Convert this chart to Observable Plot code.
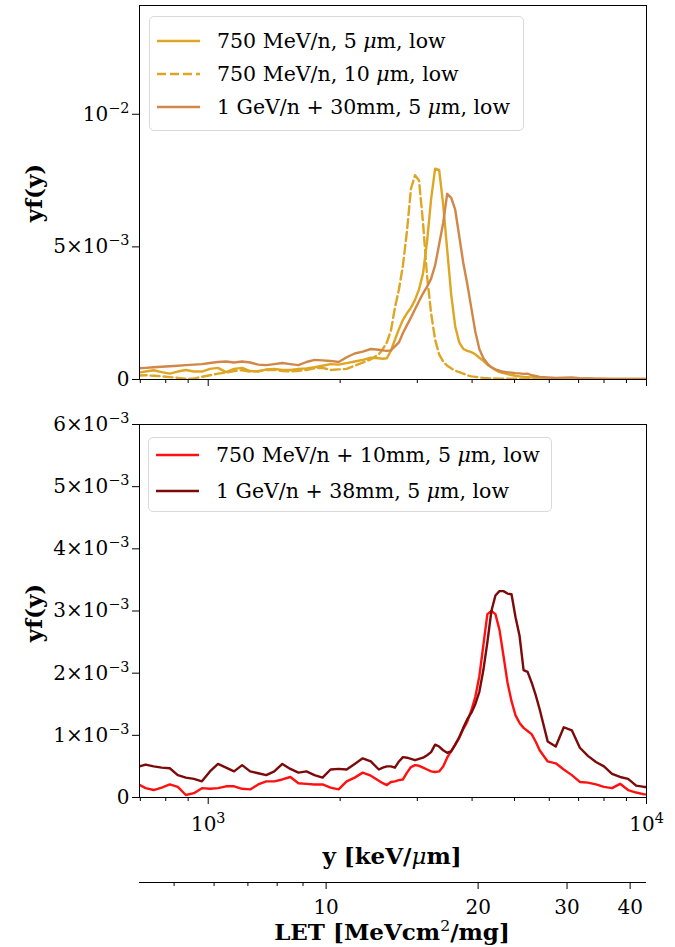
<!DOCTYPE html>
<html>
<head>
<meta charset="utf-8">
<script src="https://cdn.jsdelivr.net/npm/d3@7"></script>
<script src="https://cdn.jsdelivr.net/npm/@observablehq/plot@0.6"></script>
<style>
  body { margin: 0; background: #fff; }
  #fig { position: relative; width: 675px; height: 947px; font-family: "DejaVu Serif", serif; color: #000; overflow: hidden; }
  #fig svg { position: absolute; left: 0; overflow: visible; }
  .lbl { position: absolute; font-weight: bold; font-size: 23px; white-space: nowrap; transform: translate(-50%, -50%); line-height: 1; }
  .lbl i { font-weight: normal; }
  .rot { transform: translate(-50%, -50%) rotate(-90deg); }
  .legend { position: absolute; border: 1px solid #d9d9d9; border-radius: 5px; background: rgba(255,255,255,0.85); font-size: 20.5px; }
  .item { position: absolute; left: 0; display: flex; align-items: center; white-space: nowrap; height: 30px; transform: translateY(-50%); }
  .item svg { position: static !important; margin-left: 7px; margin-right: 17px; }
  .item i { font-style: italic; }
</style>
</head>
<body>
<div id="fig"></div>
<script>
// ---- data (x: lineal energy y in keV/um, values: yf(y) in units of 1e-3) ----
const yGrid = [690, 719.8, 750.9, 783.3, 817.1, 852.3, 889.1, 927.5, 967.5, 1009.2, 1052.8, 1098.2, 1145.6, 1195.0, 1246.6, 1300.4, 1356.5, 1415.0, 1476.1, 1539.8, 1606.2, 1675.5, 1747.8, 1823.2, 1901.9, 1984.0, 2069.6, 2158.9, 2252.1, 2349.3, 2450.6,
  2502.9, 2556.4, 2611.0, 2666.7, 2723.7, 2781.8, 2841.2, 2901.8, 2963.8, 3027.0, 3091.7, 3157.6, 3225.1, 3293.9, 3364.2, 3436.0, 3509.4, 3584.3, 3660.8, 3739.0, 3818.8, 3900.3, 3983.6, 4068.6, 4155.5, 4244.2, 4334.8, 4427.3, 4521.8, 4618.4, 4717.0, 4817.7, 4920.6, 5025.6, 5132.9, 5242.4, 5354.3, 5468.6, 5585.4, 5704.6,
  5950.8, 6207.5, 6475.4, 6754.8, 7046.3, 7350.4, 7667.6, 7998.4, 8343.6, 8703.6, 9079.2, 9471.0, 9879.7, 10000];

const s750_5um = [0.25,0.30,0.35,0.28,0.22,0.30,0.36,0.30,0.30,0.40,0.44,0.28,0.40,0.44,0.32,0.30,0.38,0.40,0.36,0.36,0.40,0.42,0.46,0.52,0.58,0.56,0.62,0.68,0.74,0.82,0.80,
  0.78,0.80,1.09,1.50,1.90,2.25,2.50,2.71,3.00,3.40,4.00,5.20,6.80,7.95,7.90,6.60,4.90,3.20,2.00,1.40,1.15,1.08,1.03,0.95,0.82,0.70,0.56,0.46,0.36,0.28,0.24,0.20,0.17,0.14,0.12,0.10,0.09,0.08,0.07,0.06,
  0.05,0.04,0.04,0.03,0.03,0.03,0.02,0.02,0.02,0.02,0.02,0.02,0.02,0.02];

const s750_10um = [0.15,0.16,0.14,0.12,0.09,0.06,0.03,0.04,0.10,0.16,0.22,0.26,0.32,0.35,0.30,0.32,0.36,0.36,0.32,0.30,0.33,0.36,0.42,0.44,0.36,0.38,0.40,0.52,0.64,0.76,0.95,
  1.15,1.40,1.84,2.70,3.40,4.30,5.60,7.20,7.70,7.50,5.90,3.90,2.50,1.50,0.95,0.68,0.52,0.42,0.33,0.28,0.22,0.16,0.12,0.10,0.08,0.06,0.05,0.04,0.04,0.03,0.03,0.03,0.03,0.03,0.02,0.02,0.02,0.02,0.02,0.02,
  0.02,0.02,0.02,0.02,0.02,0.02,0.02,0.01,0.01,0.01,0.01,0.01,0.01,0.01];

const s1G_30mm = [0.42,0.44,0.46,0.48,0.50,0.52,0.54,0.56,0.58,0.62,0.66,0.68,0.64,0.68,0.64,0.56,0.54,0.58,0.62,0.58,0.54,0.66,0.74,0.72,0.70,0.66,0.84,0.98,1.05,1.15,1.12,
  1.10,1.08,1.10,1.25,1.40,1.75,2.05,2.34,2.65,2.95,3.25,3.50,3.80,4.30,5.10,5.90,7.00,6.85,6.40,5.40,4.40,3.60,2.70,1.80,1.15,0.80,0.60,0.46,0.38,0.33,0.29,0.27,0.26,0.24,0.23,0.21,0.22,0.16,0.13,0.10,
  0.08,0.06,0.07,0.08,0.05,0.04,0.03,0.03,0.02,0.02,0.02,0.02,0.02,0.02];

const s750_10mm = [0.22,0.15,0.12,0.16,0.21,0.17,0.04,0.07,0.15,0.14,0.15,0.18,0.18,0.14,0.13,0.21,0.26,0.26,0.29,0.33,0.23,0.22,0.21,0.21,0.16,0.13,0.26,0.32,0.40,0.35,0.27,
  0.23,0.20,0.25,0.26,0.28,0.29,0.40,0.49,0.52,0.51,0.48,0.45,0.42,0.41,0.42,0.50,0.64,0.75,0.85,0.96,1.10,1.22,1.40,1.62,1.95,2.45,2.95,3.00,2.95,2.70,2.28,1.85,1.55,1.32,1.20,1.12,1.07,1.02,0.90,0.76,
  0.58,0.55,0.45,0.36,0.25,0.24,0.21,0.17,0.15,0.22,0.12,0.08,0.05,0.05];

const s1G_38mm = [0.49,0.53,0.50,0.48,0.47,0.36,0.32,0.30,0.26,0.42,0.54,0.48,0.42,0.52,0.42,0.39,0.36,0.42,0.54,0.46,0.40,0.42,0.36,0.32,0.45,0.46,0.45,0.54,0.63,0.58,0.45,
  0.48,0.50,0.50,0.48,0.58,0.65,0.64,0.62,0.60,0.62,0.64,0.68,0.73,0.85,0.82,0.76,0.72,0.74,0.85,0.97,1.12,1.26,1.36,1.50,1.70,2.05,2.50,3.00,3.25,3.32,3.32,3.28,3.27,2.90,2.60,2.05,2.02,1.85,1.65,1.42,
  0.90,0.82,1.13,1.08,0.80,0.67,0.57,0.50,0.38,0.33,0.30,0.19,0.17,0.17];

const topSeries = [
  {name: "750 MeV/n, 5 μm, low", values: s750_5um, color: "#dea624", dash: null},
  {name: "750 MeV/n, 10 μm, low", values: s750_10um, color: "#dea624", dash: "9,4"},
  {name: "1 GeV/n + 30mm, 5 μm, low", values: s1G_30mm, color: "#d18747", dash: null}
];
const botSeries = [
  {name: "750 MeV/n + 10mm, 5 μm, low", values: s750_10mm, color: "#ff1111", dash: null},
  {name: "1 GeV/n + 38mm, 5 μm, low", values: s1G_38mm, color: "#7d0a0a", dash: null}
];

const xMajor = [1000, 10000];
const xMinor = [700, 800, 900, 2000, 3000, 4000, 5000, 6000, 7000, 8000, 9000];
const yTicksTop = [0, 0.005, 0.01];
const yTicksBot = [0, 0.001, 0.002, 0.003, 0.004, 0.005, 0.006];
const letMajor = [10, 20, 30, 40];
const letMinor = [5, 6, 7, 8, 9];

// ---- helpers ----
const rows = vals => yGrid.map((x, i) => ({x, v: vals[i] * 1e-3}));
const fmtY = v => v === 0 ? "0" : (Math.abs(v - 0.01) < 1e-9 ? "10^−2" : Math.round(v * 1000) + "×10^−3");
const fmtX = v => v === 1000 ? "10^3" : "10^4";
const NS = "http://www.w3.org/2000/svg";
function sup(svg) {
  svg.querySelectorAll("text").forEach(t => {
    const s = t.textContent, i = s.indexOf("^");
    if (i < 0) return;
    t.textContent = "";
    const a = document.createElementNS(NS, "tspan"); a.textContent = s.slice(0, i);
    const b = document.createElementNS(NS, "tspan"); b.textContent = s.slice(i + 1);
    b.setAttribute("dy", "-0.55em"); b.setAttribute("font-size", "72%");
    t.append(a, b);
  });
  return svg;
}
const W = 675, ML = 139, MR = 29, LW = 2.4;
const xScale = {type: "log", domain: [697, 10000], label: null};
const baseStyle = {fontFamily: "DejaVu Serif", fontSize: "20px", background: "transparent", color: "#000", overflow: "visible"};
const lineMarks = series => series.map(s => Plot.line(rows(s.values), {x: "x", y: "v", stroke: s.color, strokeWidth: LW, strokeDasharray: s.dash, clip: true}));

const topPlot = Plot.plot({
  width: W, height: 391, marginLeft: ML, marginRight: MR, marginTop: 5, marginBottom: 12,
  style: baseStyle,
  x: xScale, y: {domain: [0, 0.0141], label: null},
  marks: [
    ...lineMarks(topSeries),
    Plot.frame({stroke: "#000", strokeWidth: 1}),
    Plot.axisX({ticks: xMajor, tickSize: 7, tickFormat: () => "", label: null}),
    Plot.axisX({ticks: xMinor, tickSize: 4, tickFormat: () => "", label: null}),
    Plot.axisY({ticks: yTicksTop, tickSize: 7, tickPadding: 3, tickFormat: fmtY, label: null})
  ]
});

const botPlot = Plot.plot({
  width: W, height: 486, marginLeft: ML, marginRight: MR, marginTop: 33, marginBottom: 80,
  style: baseStyle,
  x: xScale, y: {domain: [0, 0.006], label: null},
  marks: [
    ...lineMarks(botSeries),
    Plot.frame({stroke: "#000", strokeWidth: 1}),
    Plot.axisX({ticks: xMajor, tickSize: 7, tickPadding: 12, tickFormat: fmtX, label: null}),
    Plot.axisX({ticks: xMinor, tickSize: 4, tickFormat: () => "", label: null}),
    Plot.axisY({ticks: yTicksBot, tickSize: 7, tickPadding: 3, tickFormat: fmtY, label: null})
  ]
});

const letPlot = Plot.plot({
  width: W, height: 70, marginLeft: ML, marginRight: MR, marginTop: 0, marginBottom: 64,
  style: baseStyle,
  x: {type: "log", domain: [4.27, 43.1], label: null},
  y: {domain: [0, 1], axis: null},
  marks: [
    Plot.ruleY([0], {stroke: "#000", strokeWidth: 1}),
    Plot.axisX({ticks: letMajor, tickSize: 7, tickPadding: 10, tickFormat: d => String(d), label: null}),
    Plot.axisX({ticks: letMinor, tickSize: 4, tickFormat: () => "", label: null})
  ]
});

const fig = document.getElementById("fig");
[[topPlot, 0], [botPlot, 391], [letPlot, 876]].forEach(([p, top]) => {
  sup(p);
  p.style.top = top + "px";
  fig.appendChild(p);
});

function addLabel(html, x, y, cls) {
  const d = document.createElement("div");
  d.className = "lbl" + (cls ? " " + cls : "");
  d.style.left = x + "px"; d.style.top = y + "px";
  d.innerHTML = html;
  fig.appendChild(d);
}
addLabel("yf(y)", 33, 193, "rot");
addLabel("yf(y)", 33, 613, "rot");
addLabel("y [keV/<i>μ</i>m]", 392, 856);
addLabel("LET [MeVcm<span style=\"font-size:0.68em;position:relative;top:-0.6em;font-weight:normal\">2</span>/mg]", 392, 931);

function legend(series, left, top, width, height, rowYs) {
  const box = document.createElement("div");
  box.className = "legend";
  Object.assign(box.style, {left: left + "px", top: top + "px", width: width + "px", height: height + "px"});
  series.forEach((s, i) => {
    const it = document.createElement("div");
    it.className = "item";
    it.style.top = rowYs[i] + "px";
    const label = s.name.replace("μ", "<i>μ</i>");
    it.innerHTML = `<svg width="43" height="10"><line x1="0" y1="5" x2="43" y2="5" stroke="${s.color}" stroke-width="${LW}" ${s.dash ? `stroke-dasharray="${s.dash}"` : ""}/></svg><span>${label}</span>`;
    box.appendChild(it);
  });
  fig.appendChild(box);
}
legend(topSeries, 149, 16, 373, 113, [24, 57, 90]);
legend(botSeries, 148, 437, 402, 73, [17, 53]);
</script>
</body>
</html>
